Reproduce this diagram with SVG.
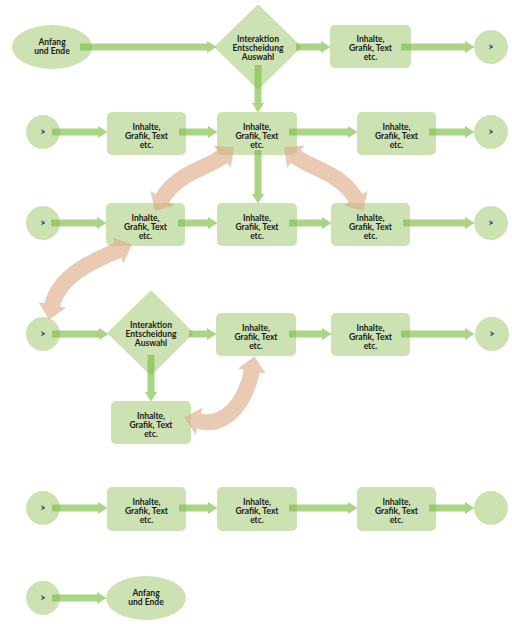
<svg xmlns="http://www.w3.org/2000/svg" width="512" height="624" viewBox="0 0 512 624">
<style>
.n{fill:#cce2b2}
.d{fill:#cce2b2;stroke:#cce2b2;stroke-width:4;stroke-linejoin:round}
text{font-family:Lato,"Liberation Sans",sans-serif;font-weight:700;font-size:8.5px;fill:#1a1a1a;text-anchor:middle}
.g line{stroke:#7cbf45;stroke-width:7;marker-end:url(#gh)}
.o path{fill:none;stroke:#dea882;stroke-width:16;marker-start:url(#oh);marker-end:url(#oh)}
</style>
<defs>
<marker id="gh" markerUnits="userSpaceOnUse" markerWidth="12" markerHeight="14" refX="0" refY="6.5" orient="auto" overflow="visible"><path d="M0,0.5 L9.5,6.5 L0,12.5 z" fill="#7cbf45"/></marker>
<marker id="oh" markerUnits="userSpaceOnUse" markerWidth="18" markerHeight="30" refX="1" refY="14" orient="auto-start-reverse" overflow="visible"><path d="M0,0 L15,14 L0,28 z" fill="#dea882"/></marker>
</defs>
<rect width="512" height="624" fill="#fff"/>
<!-- row 1 -->
<g id="start1"><ellipse class="n" cx="52" cy="47" rx="40" ry="22"/><text x="52" y="45">Anfang</text><text x="52" y="54">und Ende</text></g>
<g id="dec1"><path class="d" d="M258,7 L299,47 L258,87 L217,47 z"/><text x="258" y="42">Interaktion</text><text x="258" y="51">Entscheidung</text><text x="258" y="60">Auswahl</text></g>
<g id="r1b3"><rect class="n" x="330" y="25" width="81" height="43" rx="5"/><text x="370.5" y="42">Inhalte,</text><text x="370.5" y="51">Grafik, Text</text><text x="370.5" y="60">etc.</text></g>
<g id="r1c"><circle class="n" cx="491" cy="47" r="17"/><text x="491" y="50">&gt;</text></g>
<!-- row 2 -->
<g id="r2c0"><circle class="n" cx="43" cy="132" r="17"/><text x="43" y="135">&gt;</text></g>
<g id="r2b1"><rect class="n" x="107" y="112" width="79" height="43" rx="5"/><text x="146.5" y="129.5">Inhalte,</text><text x="146.5" y="138.5">Grafik, Text</text><text x="146.5" y="147.5">etc.</text></g>
<g id="r2b2"><rect class="n" x="217" y="112" width="80" height="43" rx="5"/><text x="257" y="129.5">Inhalte,</text><text x="257" y="138.5">Grafik, Text</text><text x="257" y="147.5">etc.</text></g>
<g id="r2b3"><rect class="n" x="357" y="112" width="79" height="43" rx="5"/><text x="396.5" y="129.5">Inhalte,</text><text x="396.5" y="138.5">Grafik, Text</text><text x="396.5" y="147.5">etc.</text></g>
<g id="r2c"><circle class="n" cx="491" cy="132" r="17"/><text x="491" y="135">&gt;</text></g>
<!-- row 3 -->
<g id="r3c0"><circle class="n" cx="43" cy="223" r="17"/><text x="43" y="226">&gt;</text></g>
<g id="r3b1"><rect class="n" x="106" y="203" width="79" height="43" rx="5"/><text x="145.5" y="220.5">Inhalte,</text><text x="145.5" y="229.5">Grafik, Text</text><text x="145.5" y="238.5">etc.</text></g>
<g id="r3b2"><rect class="n" x="217" y="203" width="80" height="43" rx="5"/><text x="257" y="220.5">Inhalte,</text><text x="257" y="229.5">Grafik, Text</text><text x="257" y="238.5">etc.</text></g>
<g id="r3b3"><rect class="n" x="331" y="203" width="79" height="43" rx="5"/><text x="370.5" y="220.5">Inhalte,</text><text x="370.5" y="229.5">Grafik, Text</text><text x="370.5" y="238.5">etc.</text></g>
<g id="r3c"><circle class="n" cx="491" cy="223" r="17"/><text x="491" y="226">&gt;</text></g>
<!-- row 4 -->
<g id="r4c0"><circle class="n" cx="43" cy="334" r="17"/><text x="43" y="337">&gt;</text></g>
<g id="dec2"><path class="d" d="M151,293 L191,333 L151,373 L110,333 z"/><text x="151" y="328">Interaktion</text><text x="151" y="337">Entscheidung</text><text x="151" y="346">Auswahl</text></g>
<g id="r4b2"><rect class="n" x="216" y="313" width="80" height="43" rx="5"/><text x="256" y="330.5">Inhalte,</text><text x="256" y="339.5">Grafik, Text</text><text x="256" y="348.5">etc.</text></g>
<g id="r4b3"><rect class="n" x="331" y="313" width="79" height="43" rx="5"/><text x="370.5" y="330.5">Inhalte,</text><text x="370.5" y="339.5">Grafik, Text</text><text x="370.5" y="348.5">etc.</text></g>
<g id="r4c"><circle class="n" cx="492" cy="334" r="17"/><text x="492" y="337">&gt;</text></g>
<g id="r4b4"><rect class="n" x="111" y="401" width="80" height="43" rx="5"/><text x="151" y="418.5">Inhalte,</text><text x="151" y="427.5">Grafik, Text</text><text x="151" y="436.5">etc.</text></g>
<!-- row 5 -->
<g id="r5c0"><circle class="n" cx="43" cy="508" r="17"/><text x="43" y="511">&gt;</text></g>
<g id="r5b1"><rect class="n" x="107" y="487" width="79" height="44" rx="5"/><text x="146.5" y="504.5">Inhalte,</text><text x="146.5" y="513.5">Grafik, Text</text><text x="146.5" y="522.5">etc.</text></g>
<g id="r5b2"><rect class="n" x="217" y="487" width="80" height="44" rx="5"/><text x="257" y="504.5">Inhalte,</text><text x="257" y="513.5">Grafik, Text</text><text x="257" y="522.5">etc.</text></g>
<g id="r5b3"><rect class="n" x="357" y="487" width="79" height="44" rx="5"/><text x="396.5" y="504.5">Inhalte,</text><text x="396.5" y="513.5">Grafik, Text</text><text x="396.5" y="522.5">etc.</text></g>
<g id="r5c"><circle class="n" cx="491" cy="508" r="17"/></g>
<!-- row 6 -->
<g id="r6c0"><circle class="n" cx="43" cy="598" r="17"/><text x="43" y="601">&gt;</text></g>
<g id="end6"><ellipse class="n" cx="146" cy="598" rx="40" ry="22"/><text x="146" y="596">Anfang</text><text x="146" y="605">und Ende</text></g>
<!-- connectors -->
<g id="connectors">
<g class="g" opacity="0.65">
<line x1="80" y1="47" x2="207" y2="47"/>
<line x1="296" y1="47" x2="321" y2="47"/>
<line x1="401" y1="47" x2="465" y2="47"/>
<line x1="258" y1="65" x2="258" y2="103"/>
<line x1="52" y1="132" x2="98" y2="132"/>
<line x1="179" y1="132" x2="208" y2="132"/>
<line x1="289" y1="132" x2="348" y2="132"/>
<line x1="429" y1="132" x2="465" y2="132"/>
<line x1="258" y1="150" x2="258" y2="194"/>
<line x1="51" y1="223" x2="97" y2="223"/>
<line x1="178" y1="223" x2="208" y2="223"/>
<line x1="289" y1="223" x2="322" y2="223"/>
<line x1="403" y1="223" x2="465" y2="223"/>
<line x1="52" y1="334" x2="99" y2="334"/>
<line x1="189" y1="334" x2="207" y2="334"/>
<line x1="289" y1="334" x2="322" y2="334"/>
<line x1="401" y1="334" x2="465" y2="334"/>
<line x1="151" y1="355" x2="151" y2="392"/>
<line x1="52" y1="508" x2="98" y2="508"/>
<line x1="179" y1="508" x2="208" y2="508"/>
<line x1="289" y1="508" x2="348" y2="508"/>
<line x1="429" y1="508" x2="465" y2="508"/>
<line x1="52" y1="598" x2="97" y2="598"/>
</g>
<g class="o" opacity="0.6">
<path d="M162,199 C178,172 205,170 223,156"/>
<path d="M356,199 C340,172 313,170 295,156"/>
<path d="M52,306 C59,275 93,261 119,250"/>
<path d="M252,370 C246,402 226,428 198,421"/>
</g>
</g>
</svg>
